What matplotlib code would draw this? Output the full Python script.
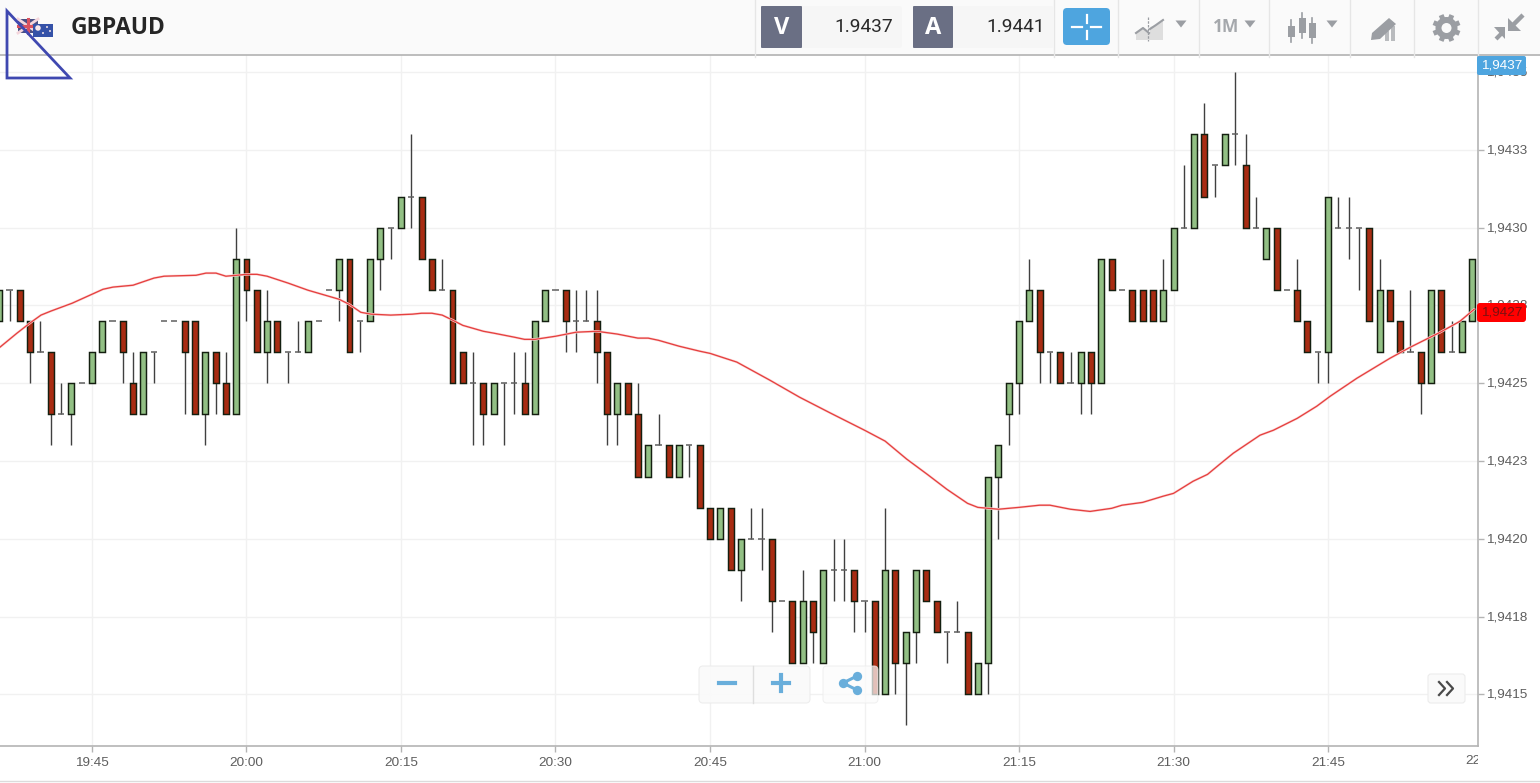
"""
plot.py
GBPAUD 1 minute candles with a moving average, in the trading platform frame.
Output: out.png
"""
import matplotlib

matplotlib.use("Agg")
import matplotlib.pyplot as plt
import numpy as np
from matplotlib.patches import Circle, FancyBboxPatch, Polygon, Rectangle
from matplotlib.transforms import Bbox, ScaledTranslation

# prices are kept in ticks above 1.9400 (1 tick = 0.0001)
BASE = 1.94
TICK = 0.0001

first_minute = -9  # minutes after 19:45 of the first candle

opens = [27, 28, 28, 27, 26, 26, 24, 24, 25,
         25, 26, 27, 27, 25, 24, 26, 27, 27, 27,
         27, 24, 26, 25, 24, 29, 28, 26, 27, 26,
         26, 26, 27, 28, 28, 29, 27, 27, 29, 30,
         30, 31, 31, 29, 28, 28, 26, 25, 25, 24,
         25, 25, 25, 24, 27, 28, 28, 27, 27, 27,
         26, 24, 25, 24, 22, 23, 23, 22, 23, 23,
         21, 20, 21, 19, 20, 20, 20, 18, 18, 16,
         18, 16, 19, 19, 19, 18, 18, 15, 19, 16,
         17, 19, 18, 17, 17, 17, 15, 16, 22, 24,
         25, 27, 28, 26, 26, 25, 25, 26, 25, 29,
         28, 28, 28, 28, 27, 28, 30, 30, 33, 32,
         32, 33, 32, 30, 29, 30, 28, 28, 27, 26,
         26, 30, 30, 30, 30, 26, 28, 27, 26, 26,
         25, 28, 26, 26, 27]
closes = [28, 28, 27, 26, 26, 24, 24, 25, 25,
          26, 27, 27, 26, 24, 26, 26, 27, 27, 26,
          24, 26, 25, 24, 29, 28, 26, 27, 26, 26,
          26, 27, 27, 28, 29, 26, 27, 29, 30, 30,
          31, 31, 29, 28, 28, 25, 25, 25, 24, 25,
          25, 25, 24, 27, 28, 28, 27, 27, 27, 26,
          24, 25, 24, 22, 23, 23, 22, 23, 23, 21,
          20, 21, 19, 20, 20, 20, 18, 18, 16, 18,
          17, 19, 19, 19, 18, 18, 15, 19, 16, 17,
          19, 18, 17, 17, 17, 15, 16, 22, 23, 25,
          27, 28, 26, 26, 25, 25, 26, 25, 29, 28,
          28, 27, 27, 27, 28, 30, 30, 33, 31, 32,
          33, 33, 30, 30, 30, 28, 28, 27, 26, 26,
          31, 30, 30, 30, 27, 28, 27, 26, 26, 25,
          28, 26, 26, 27, 29]
lows = [27, 27, 27, 25, 26, 23, 24, 23, 25,
        25, 26, 27, 25, 24, 24, 25, 27, 27, 24,
        24, 23, 24, 24, 24, 27, 26, 25, 26, 25,
        26, 26, 27, 28, 27, 26, 26, 27, 28, 29,
        30, 30, 29, 28, 28, 25, 25, 23, 23, 24,
        23, 24, 24, 24, 27, 28, 26, 26, 27, 25,
        23, 23, 24, 22, 22, 23, 22, 22, 22, 21,
        20, 20, 19, 18, 20, 19, 17, 18, 16, 16,
        16, 16, 18, 18, 17, 17, 15, 15, 15, 14,
        16, 18, 17, 16, 17, 15, 15, 15, 20, 23,
        24, 27, 25, 25, 25, 25, 24, 24, 25, 28,
        28, 27, 27, 27, 27, 28, 30, 30, 31, 31,
        32, 32, 30, 30, 29, 28, 28, 27, 26, 25,
        25, 30, 29, 28, 27, 26, 27, 26, 26, 24,
        25, 26, 26, 26, 27]
highs = [28, 28, 28, 27, 27, 26, 25, 25, 25,
         26, 27, 27, 27, 26, 26, 26, 27, 27, 27,
         27, 26, 26, 26, 30, 29, 28, 28, 27, 26,
         27, 27, 27, 28, 29, 29, 27, 29, 30, 30,
         31, 33, 31, 29, 29, 28, 26, 26, 25, 25,
         25, 26, 26, 27, 28, 28, 28, 28, 28, 28,
         26, 25, 25, 25, 23, 24, 23, 23, 23, 23,
         21, 21, 21, 20, 21, 21, 20, 18, 18, 19,
         18, 19, 20, 20, 19, 18, 18, 21, 19, 17,
         19, 19, 18, 17, 18, 17, 16, 22, 23, 25,
         27, 29, 28, 26, 26, 26, 26, 26, 29, 29,
         28, 28, 28, 28, 29, 30, 32, 33, 34, 32,
         33, 35, 33, 31, 30, 30, 28, 29, 27, 26,
         31, 31, 31, 30, 30, 29, 28, 27, 28, 26,
         28, 28, 27, 27, 29]

ma_minutes = [-8.93, -7.28, -5.92, -4.95, -3.98, -1.94, 0, 1.07, 2.04, 3.98, 6.02,
              7, 10.1, 11.07, 12.04, 13, 15.05, 16.02, 17, 19.03, 20.97, 23.98,
              24.95, 26.1, 27.1, 29, 31.1, 32, 33, 34, 35, 36, 38, 39, 41, 42, 43,
              45, 47, 49, 51, 53, 54, 55, 57, 59, 60, 62.6, 65.8, 68.7, 71.7, 75,
              77, 79.1, 81.1, 83, 85, 86, 88, 90, 92, 93, 95, 96.9, 99, 100, 102,
              104, 105, 106.9, 108.3, 109.5, 110.8, 112.1, 113.4, 114.7, 117,
              118.9, 120.2, 122.8, 126, 128, 130.9, 132.8, 134.2]
ma_values = [26.16, 26.61, 26.96, 27.19, 27.32, 27.57, 27.86, 28.02, 28.09, 28.15,
             28.38, 28.44, 28.47, 28.54, 28.54, 28.44, 28.50, 28.50, 28.44, 28.22,
             27.99, 27.70, 27.54, 27.28, 27.22, 27.19, 27.22, 27.25, 27.25, 27.19,
             27.03, 26.86, 26.67, 26.61, 26.48, 26.41, 26.41, 26.51, 26.64, 26.67,
             26.58, 26.45, 26.45, 26.38, 26.19, 26.03, 25.96, 25.68, 25.10, 24.55,
             24.04, 23.49, 23.14, 22.56, 22.07, 21.59, 21.14, 21.01, 20.95, 21.01,
             21.08, 21.08, 20.95, 20.88, 20.98, 21.08, 21.17, 21.37, 21.46, 21.85,
             22.07, 22.40, 22.75, 23.04, 23.33, 23.49, 23.87, 24.26, 24.58, 25.16,
             25.80, 26.16, 26.64, 26.99, 27.38]

time_ticks = [0, 15, 30, 45, 60, 75, 90, 105, 120, 135]
time_labels = ["19:45", "20:00", "20:15", "20:30", "20:45", "21:00", "21:15", "21:30", "21:45", "22:00"]
price_ticks = [1.9415, 1.94175, 1.9420, 1.94225, 1.9425, 1.94275, 1.9430, 1.94325, 1.9435]
price_labels = ["1,9415", "1,9418", "1,9420", "1,9423", "1,9425", "1,9428", "1,9430", "1,9433", "1,9435"]

symbol = "GBPAUD"
sell_price = "1.9437"
buy_price = "1.9441"
top_badge = "1,9437"
last_badge = "1,9427"

GREEN = "#92c084"
RED = "#a82c12"
EDGE = "#141f10"
GRID = "#f1f1f1"
AXIS = "#b4b4b4"
BLUE = "#4ea5df"
ICON = "#9b9ea3"
BUTTON = "#69aedb"
TEXT = "#5e5e5e"

plt.rcParams["font.family"] = ["Liberation Sans", "DejaVu Sans"]

W, H = 1540, 783
fig = plt.figure(figsize=(W / 100, H / 100), dpi=100, facecolor="white")

# chart area, pixel box 0..1478 x 55..746
ax = fig.add_axes([0, 1 - 746 / H, 1478 / W, (746 - 55) / H])
to_price = lambda t: BASE + np.asarray(t, dtype=float) * TICK
# the 22:00 tick lies just past the right edge, it gets its own cut-off text below
ax.set_xticks(time_ticks[:-1], time_labels[:-1])
ax.set_yticks(price_ticks, price_labels)
ax.set_xlim(-8.93, 134.56)
ax.set_ylim(to_price(13.34), to_price(35.55))
ax.yaxis.tick_right()
ax.grid(True, color=GRID, lw=1)
ax.set_axisbelow(True)
ax.tick_params(axis="both", color=AXIS, length=4.5, width=1, labelsize=9.7, labelcolor=TEXT)
ax.tick_params(axis="y", pad=1.5)
ax.tick_params(axis="x", pad=3.5)
for side in ["top", "left"]:
    ax.spines[side].set_visible(False)
for side in ["right", "bottom"]:
    ax.spines[side].set_color(AXIS)
    ax.spines[side].set_linewidth(1.2)
lift = ScaledTranslation(0, 1 / 100, fig.dpi_scale_trans)
for label in ax.get_yticklabels():
    label.set_transform(label.get_transform() + lift)

last_label = ax.text(time_ticks[-1], -15 / (746 - 55), time_labels[-1], transform=ax.get_xaxis_transform(),
                     fontsize=9.7, color=TEXT, ha="center", va="center", clip_on=True)
last_label.set_clip_box(Bbox([[0, 0], [1478, H]]))

minutes = first_minute + np.arange(len(opens))
o, c, lo, hi = map(to_price, (opens, closes, lows, highs))
ax.vlines(minutes, lo, hi, color="#404040", lw=1.0, zorder=2)

flat = o == c
ax.hlines(o[flat], minutes[flat] - 0.3, minutes[flat] + 0.3, color="#5f5f5f", lw=1.1, zorder=2)

colors = np.where(c > o, GREEN, RED)
ax.bar(minutes[~flat], np.abs(c - o)[~flat], bottom=np.minimum(o, c)[~flat], width=0.58,
       color=colors[~flat], edgecolor=EDGE, linewidth=1.05, zorder=3)

ax.plot(ma_minutes, to_price(ma_values), color="#fcdada", lw=1.8, zorder=4, solid_capstyle="round")
ax.plot(ma_minutes, to_price(ma_values), color="#e5403f", lw=0.95, zorder=5)

# frame around the chart, in pixels with y running down
ui = fig.add_axes([0, 0, 1, 1], facecolor="none")
ui.set_xlim(0, W)
ui.set_ylim(H, 0)
ui.axis("off")


def box(x0, y0, x1, y1, color, radius=2, z=5, **kw):
    patch = FancyBboxPatch((x0 + radius, y0 + radius), x1 - x0 - 2 * radius, y1 - y0 - 2 * radius,
                           boxstyle=f"round,pad={radius},rounding_size={radius}",
                           fc=color, zorder=z, **{"ec": "none", **kw})
    ui.add_patch(patch)
    return patch


def triangle(x, y, w=11, h=7, color=ICON):
    ui.add_patch(Polygon([(x - w / 2, y - h / 2), (x + w / 2, y - h / 2), (x, y + h / 2)], fc=color, ec="none", zorder=6))


ui.add_patch(Rectangle((0, 0), W, 55, fc="#fafafa", ec="none", zorder=1))
ui.plot([0, W], [55, 55], color="#b2b2b2", lw=1.2, zorder=2)
ui.plot([0, W], [781, 781], color="#dcdcdc", lw=1, zorder=2)
for x in [755, 1054, 1118, 1199, 1269, 1350, 1414, 1478]:
    ui.plot([x, x], [0, 57], color="#e6e6e6", lw=1, zorder=2)

# flags and symbol
ui.add_patch(Rectangle((18, 19), 20, 14, fc="#4a4f84", zorder=3))
ui.plot([18, 38], [19, 33], color="#f4d6dc", lw=2, zorder=3)
ui.plot([18, 38], [33, 19], color="#f4d6dc", lw=2, zorder=3)
ui.plot([28, 28], [19, 33], color="#d9525f", lw=2.2, zorder=3)
ui.plot([18, 38], [26, 26], color="#d9525f", lw=2.2, zorder=3)
ui.add_patch(Rectangle((33, 24), 20, 13, fc="#3552a8", zorder=3))
ui.scatter([38, 47, 43, 50], [28, 27, 33, 31], s=[16, 2, 2, 2], color="#f5e6ea", zorder=4, linewidths=0)
ui.text(70.5, 28, symbol, fontsize=16.4, fontweight="bold", family="Open Sans", color="#262626", va="center", zorder=6)

# sell and buy boxes
for x0, x1, x2, letter, price in [(761, 802, 902, "V", sell_price), (913, 953, 1054, "A", buy_price)]:
    box(x1 - 4, 6, x2, 48, "#f6f6f6", radius=3, z=3, lw=0.8)
    box(x0, 6, x1, 48, "#6a6f84", radius=1, z=4)
    ui.text((x0 + x1) / 2, 28, letter, fontsize=17, fontweight="bold", family="Open Sans", color="white",
            ha="center", va="center", zorder=6)
    ui.text(x2 - 9, 27.5, price, fontsize=13.8, family="Roboto", color="#2a2a2a", ha="right", va="center", zorder=6)

# crosshair button
box(1063, 8, 1110, 45, BLUE, radius=4)
ui.plot([1072, 1082], [27, 27], color="white", lw=1.6, zorder=6)
ui.plot([1091, 1101], [27, 27], color="white", lw=1.6, zorder=6)
ui.plot([1086.5, 1086.5], [15, 23], color="white", lw=1.6, zorder=6)
ui.plot([1086.5, 1086.5], [31, 39], color="white", lw=1.6, zorder=6)

# chart type icon
ui.add_patch(Polygon([(1136, 40), (1136, 32), (1143, 27), (1150, 33), (1150, 40)], fc="#dedede", zorder=5))
ui.add_patch(Polygon([(1150, 40), (1150, 27), (1157, 25), (1163, 20), (1163, 40)], fc="#dedede", zorder=5))
ui.plot([1136, 1143, 1149], [33, 28, 33], color=ICON, lw=1.5, zorder=6)
ui.plot([1150, 1156, 1163], [29, 25, 20], color=ICON, lw=1.5, zorder=6)
ui.plot([1148, 1148], [17, 41], color=ICON, lw=0.9, ls=(0, (2, 1)), zorder=6)
triangle(1181, 24)

# timeframe
ui.text(1226, 27, "1M", fontsize=12.5, fontweight="bold", family="Open Sans", color="#a5a8ac", ha="center", va="center", zorder=6)
triangle(1250, 24)

# candle icon
for x, y0, y1, b0, b1 in [(1291, 20, 42, 26, 37), (1302, 13, 38, 18, 33), (1312, 18, 43, 23, 38)]:
    ui.plot([x, x], [y0, y1], color=ICON, lw=1.2, zorder=6)
    ui.add_patch(Rectangle((x - 3.5, b0), 7, b1 - b0, fc=ICON, zorder=6))
triangle(1332, 24)

# drawing tool icon
ui.add_patch(Polygon([(1372, 33), (1389, 18), (1396, 24), (1380, 39), (1371, 40)], fc=ICON, zorder=6))
ui.add_patch(Rectangle((1385, 31), 3.5, 10, fc="#b9bbbe", zorder=5))
ui.add_patch(Rectangle((1391, 26), 3.5, 15, fc="#b9bbbe", zorder=5))

# settings gear
for angle in np.deg2rad(np.arange(0, 180, 45) + 22.5):
    dx, dy = 14 * np.cos(angle), 14 * np.sin(angle)
    ui.plot([1446.5 - dx, 1446.5 + dx], [28 - dy, 28 + dy], color=ICON, lw=3.6, zorder=6, solid_capstyle="butt")
ui.add_patch(Circle((1446.5, 28), 11, fc=ICON, zorder=6))
ui.add_patch(Circle((1446.5, 28), 5, fc="#fafafa", zorder=7))

# compress arrows
ui.add_patch(Polygon([(1508, 18), (1508, 31), (1521, 31)], fc=ICON, zorder=6))
ui.plot([1523, 1513], [15, 25], color=ICON, lw=3.2, zorder=6, solid_capstyle="butt")
ui.add_patch(Polygon([(1505, 27), (1505, 39), (1494, 27)], fc=ICON, zorder=6))
ui.plot([1496, 1502], [39, 33], color=ICON, lw=3, zorder=6, solid_capstyle="butt")

# price badges
box(1477, 56, 1526, 75, BLUE, radius=2)
ui.text(1501.5, 65.5, top_badge, fontsize=9.7, color="white", ha="center", va="center", zorder=6)
box(1477, 303, 1526, 322, "#ff0000", radius=3)
ui.text(1501.5, 312.5, last_badge, fontsize=9.7, color="#7d1010", ha="center", va="center", zorder=6)

# zoom and share buttons, partly see-through
box(699, 666, 810, 703, "#fafafa", radius=4, alpha=0.92, z=5, lw=0.8, ec="#ececec")
ui.plot([753, 753], [666, 703], color="#dedede", lw=1, zorder=6)
ui.plot([719, 735], [683, 683], color=BUTTON, lw=3, zorder=6)
ui.plot([773, 789], [683, 683], color=BUTTON, lw=3, zorder=6)
ui.plot([781, 781], [675, 691], color=BUTTON, lw=3, zorder=6)
box(823, 666, 878, 703, "#fbfbfb", radius=4, alpha=0.72, z=5, lw=0.8, ec="#ececec")
ui.plot([857, 843, 857], [676, 683, 690], color=BUTTON, lw=2.2, zorder=6)
ui.scatter([857, 843, 857], [676, 683, 690], s=45, color=BUTTON, linewidths=0, zorder=6)

box(1428, 674, 1465, 703, "#fafafa", radius=3, lw=0.8, ec="#ececec")
ui.plot([1439, 1445, 1439], [682, 688.5, 695], color="#4a4a4a", lw=1.6, zorder=6)
ui.plot([1447, 1453, 1447], [682, 688.5, 695], color="#4a4a4a", lw=1.6, zorder=6)

# hand drawn triangle on top of the screenshot
ui.add_patch(Polygon([(7, 11), (7, 78), (70, 78)], closed=True, fc="none", ec="#3f48b0", lw=2, zorder=8))

fig.savefig("out.png", dpi=100)
